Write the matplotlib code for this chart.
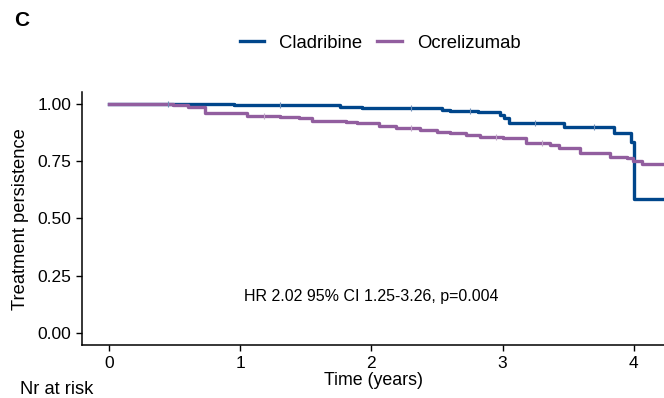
import matplotlib.pyplot as plt
import numpy as np

plt.rcParams['font.family'] = ['Liberation Sans', 'DejaVu Sans']

# Kaplan-Meier step curves
clad_t = [0.0, 0.95, 1.76, 1.93, 2.06, 2.54, 2.60, 2.81, 2.98, 3.01, 3.05, 3.47, 3.85, 3.98, 4.00, 4.23]
clad_s = [1.0, 0.996, 0.988, 0.984, 0.981, 0.974, 0.971, 0.964, 0.952, 0.937, 0.918, 0.901, 0.872, 0.835, 0.584, 0.584]

ocre_t = [0.0, 0.49, 0.60, 0.73, 0.95, 1.05, 1.30, 1.45, 1.55, 1.81, 1.89, 1.99, 2.06, 2.19, 2.37,
          2.50, 2.60, 2.72, 2.83, 3.00, 3.18, 3.36, 3.43, 3.59, 3.82, 3.95, 3.99, 4.06, 4.23]
ocre_s = [1.0, 0.995, 0.988, 0.962, 0.959, 0.949, 0.945, 0.937, 0.926, 0.923, 0.918, 0.916, 0.904, 0.894, 0.886,
          0.879, 0.872, 0.865, 0.857, 0.850, 0.831, 0.821, 0.807, 0.785, 0.770, 0.763, 0.752, 0.738, 0.738]

# censoring ticks
clad_cens = [0.45, 1.3, 2.3, 2.75, 3.25, 3.7]
ocre_cens = [1.18, 2.3, 2.95, 3.3]

blue = '#00468B'
purple = '#925E9F'


def at(ts, ss, x):
    return ss[np.searchsorted(ts, x, side='right') - 1]


fig = plt.figure(figsize=(6.64, 3.98), dpi=100)
ax = fig.add_axes([0.1235, 0.132, 0.8765, 0.6356])

ax.step(clad_t, clad_s, where='post', color=blue, lw=2.4, label='Cladribine')
ax.step(ocre_t, ocre_s, where='post', color=purple, lw=2.4, label='Ocrelizumab')

ax.plot(clad_cens, [at(clad_t, clad_s, c) for c in clad_cens],
        ls='none', marker='|', ms=4, mew=0.8, color='#6f8fb8')
ax.plot(ocre_cens, [at(ocre_t, ocre_s, c) for c in ocre_cens],
        ls='none', marker='|', ms=4, mew=0.8, color='#c0a6c8')

ax.set_xlim(-0.206, 4.23)
ax.set_ylim(-0.055, 1.05)
ax.set_xticks([0, 1, 2, 3, 4])
ax.set_yticks([0, 0.25, 0.5, 0.75, 1.0])
ax.set_yticklabels(['0.00', '0.25', '0.50', '0.75', '1.00'])
ax.tick_params(labelsize=12.5, length=4, width=1, color='black', labelcolor='black')
for s in ['top', 'right']:
    ax.spines[s].set_visible(False)
for s in ['left', 'bottom']:
    ax.spines[s].set_linewidth(1.1)

ax.set_xlabel('Time (years)', fontsize=12.8, labelpad=1)
ax.set_ylabel('Treatment persistence', fontsize=13.2, labelpad=6)

ax.text(2.0, 0.157, 'HR 2.02 95% CI 1.25-3.26, p=0.004', ha='center', va='center', fontsize=11.5)

fig.legend(loc='center', bbox_to_anchor=(380 / 664, 1 - 43 / 398), ncol=2, frameon=False,
           fontsize=13.3, handlelength=1.35, handletextpad=0.8, columnspacing=0.8)

fig.text(21.5 / 664, 1 - 21 / 398, 'C', fontsize=15, fontweight='bold', ha='center', va='center')
fig.text(20 / 664, 1 - 394 / 398, 'Nr at risk', fontsize=13.2, va='baseline')

fig.savefig('out.png', dpi=100)
